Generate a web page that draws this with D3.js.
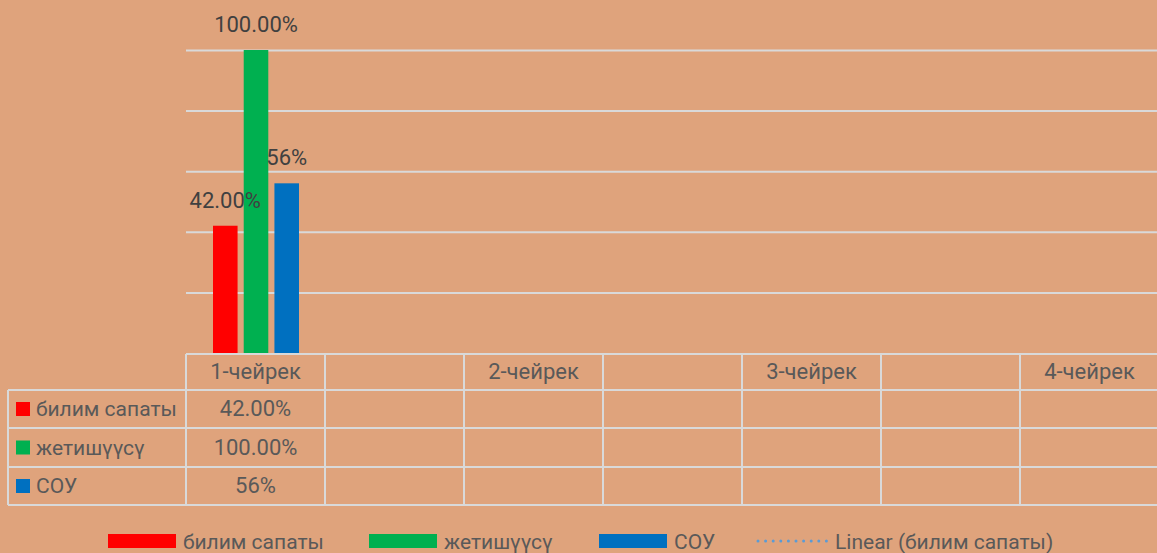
<!DOCTYPE html>
<html>
<head>
<meta charset="utf-8">
<script src="https://cdn.jsdelivr.net/npm/d3@7"></script>
<style>
  body { margin: 0; background: #DFA37C; }
  svg { display: block; }
  text { font-family: Roboto, "Liberation Sans", sans-serif; }
</style>
</head>
<body>
<div id="main"></div>
<script>
// chart data
var categories = ["1-чейрек", "", "2-чейрек", "", "3-чейрек", "", "4-чейрек"];
var seriesNames = ["билим сапаты", "жетишүүсү", "СОУ"];
var seriesColors = ["#FF0000", "#00B050", "#0070C0"];
var qualityValues = [0.42, null, null, null, null, null, null];
var achieveValues = [1.00, null, null, null, null, null, null];
var souValues = [0.56, null, null, null, null, null, null];
var qualityLabels = ["42.00%", "", "", "", "", "", ""];
var achieveLabels = ["100.00%", "", "", "", "", "", ""];
var souLabels = ["56%", "", "", "", "", "", ""];
var yTicks = [0, 0.2, 0.4, 0.6, 0.8, 1.0];
var trendName = "Linear (билим сапаты)";

var series = [
  { name: seriesNames[0], color: seriesColors[0], values: qualityValues, labels: qualityLabels },
  { name: seriesNames[1], color: seriesColors[1], values: achieveValues, labels: achieveLabels },
  { name: seriesNames[2], color: seriesColors[2], values: souValues, labels: souLabels }
];

var W = 1157, H = 553;
var plotLeft = 186, plotRight = 1159, plotTop = 50, plotBottom = 353;
var tableLeft = 8;
var rowEdges = [354, 390, 428, 467, 505];
var gridColor = "#D9D9D9";
var fontSize = 22;    // numbers and headers
var nameSize = 21;    // series names (table rows, legend)

var svg = d3.select("#main").append("svg")
  .attr("width", W)
  .attr("height", H);

svg.append("rect")
  .attr("width", W).attr("height", H)
  .attr("fill", "#DFA37C");

var x = d3.scaleBand().domain(d3.range(categories.length)).range([plotLeft, plotRight]).padding(0);
var x1 = d3.scaleBand().domain(seriesNames).range([27, 113]).paddingInner(0.2);
var y = d3.scaleLinear().domain([0, 1]).range([plotBottom, plotTop]);

// horizontal gridlines
svg.append("g")
  .attr("transform", "translate(" + plotLeft + ",0)")
  .call(d3.axisLeft(y).tickValues(yTicks.slice(1)).tickSize(-(plotRight - plotLeft)).tickFormat(""))
  .call(function(g) { g.select(".domain").remove(); })
  .selectAll("line")
  .attr("stroke", gridColor)
  .attr("stroke-width", 2);

// bars
series.forEach(function(s) {
  var g = svg.append("g");
  s.values.forEach(function(v, i) {
    if (v == null) return;
    g.append("rect")
      .attr("x", x(i) + x1(s.name))
      .attr("y", y(v))
      .attr("width", x1.bandwidth())
      .attr("height", y(0) - y(v))
      .attr("fill", s.color);
  });
});

// data labels on top of the bars
series.forEach(function(s) {
  s.values.forEach(function(v, i) {
    if (v == null) return;
    svg.append("text")
      .attr("x", x(i) + x1(s.name) + x1.bandwidth() / 2)
      .attr("y", y(v) - 18)
      .attr("text-anchor", "middle")
      .attr("font-size", fontSize)
      .attr("fill", "#404040")
      .text(s.labels[i]);
  });
});

// data table
var table = svg.append("g");
// horizontal lines
table.append("line")
  .attr("x1", plotLeft).attr("x2", plotRight)
  .attr("y1", rowEdges[0]).attr("y2", rowEdges[0]);
rowEdges.slice(1).forEach(function(ry) {
  table.append("line")
    .attr("x1", tableLeft).attr("x2", plotRight)
    .attr("y1", ry).attr("y2", ry);
});
// vertical lines
table.append("line")
  .attr("x1", tableLeft).attr("x2", tableLeft)
  .attr("y1", rowEdges[1]).attr("y2", rowEdges[4]);
categories.forEach(function(c, i) {
  table.append("line")
    .attr("x1", x(i)).attr("x2", x(i))
    .attr("y1", rowEdges[0]).attr("y2", rowEdges[4]);
});
table.selectAll("line")
  .attr("stroke", gridColor)
  .attr("stroke-width", 2);

// header
categories.forEach(function(c, i) {
  table.append("text")
    .attr("x", x(i) + x.bandwidth() / 2)
    .attr("y", (rowEdges[0] + rowEdges[1]) / 2 + 7)
    .attr("text-anchor", "middle")
    .attr("font-size", fontSize)
    .attr("fill", "#595959")
    .text(c);
});

// rows
series.forEach(function(s, r) {
  var cy = (rowEdges[r + 1] + rowEdges[r + 2]) / 2;
  table.append("rect")
    .attr("x", 16).attr("y", cy - 7)
    .attr("width", 14).attr("height", 14)
    .attr("fill", s.color);
  table.append("text")
    .attr("x", 36).attr("y", cy + 7)
    .attr("font-size", nameSize)
    .attr("fill", "#595959")
    .text(s.name);
  s.labels.forEach(function(l, i) {
    table.append("text")
      .attr("x", x(i) + x.bandwidth() / 2)
      .attr("y", cy + 7)
      .attr("text-anchor", "middle")
      .attr("font-size", fontSize)
      .attr("fill", "#595959")
      .text(l);
  });
});

// legend
var legendX = [108, 369, 599];
var legend = svg.append("g");
series.forEach(function(s, i) {
  legend.append("rect")
    .attr("x", legendX[i]).attr("y", 534)
    .attr("width", 68).attr("height", 14)
    .attr("fill", s.color);
  legend.append("text")
    .attr("x", legendX[i] + 75).attr("y", 549)
    .attr("font-size", nameSize)
    .attr("fill", "#595959")
    .text(s.name);
});
legend.append("line")
  .attr("x1", 758).attr("x2", 827)
  .attr("y1", 541).attr("y2", 541)
  .attr("stroke", "#5B9BD5")
  .attr("stroke-width", 3)
  .attr("stroke-linecap", "round")
  .attr("stroke-dasharray", "0 7.6");
legend.append("text")
  .attr("x", 835).attr("y", 549)
  .attr("font-size", nameSize)
  .attr("fill", "#595959")
  .text(trendName);
</script>
</body>
</html>
